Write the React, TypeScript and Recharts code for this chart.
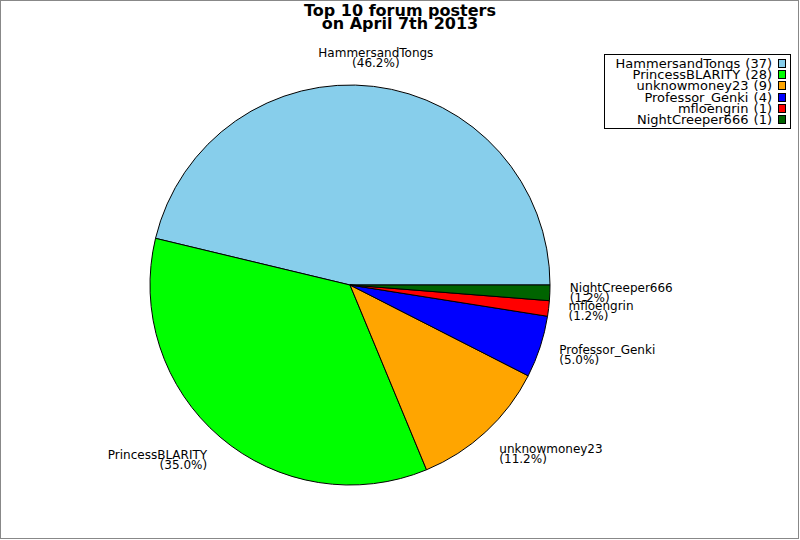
import { Cell, Legend, Pie, PieChart } from 'recharts';

const NAMES = ['HammersandTongs', 'PrincessBLARITY', 'unknowmoney23', 'Professor_Genki', 'mfloengrin', 'NightCreeper666'];
const POSTS = [37, 28, 9, 4, 1, 1];
const COLORS = ['#87ceeb', '#00ff00', '#ffa500', '#0000ff', '#ff0000', '#006400'];
const TITLE_LINES = ['Top 10 forum posters', 'on April 7th 2013'];

const FONT = '"DejaVu Sans", sans-serif';
const RADIAN = Math.PI / 180;
const TOTAL = POSTS.reduce((s, v) => s + v, 0);

const data = NAMES.map((name, i) => ({ name, value: POSTS[i] }));

// 46.25 -> 46.2 (the original truncates)
function pctText(value: number): string {
  return (Math.floor((value / TOTAL) * 1000 + 1e-9) / 10).toFixed(1) + '%';
}

function renderLabel(props: any) {
  const { cx, cy, midAngle, outerRadius, name, value } = props;
  const r = outerRadius + 20;
  const cos = Math.cos(midAngle * RADIAN);
  const sin = Math.sin(midAngle * RADIAN);
  const x = cx + r * cos;
  const y = cy - r * sin;
  const anchor = Math.abs(cos) < 0.3 ? 'middle' : cos > 0 ? 'start' : 'end';
  const top = y - 11 * (1 + sin) + 3 * Math.max(0, sin);
  return (
    <text x={x} y={top + 9} textAnchor={anchor} fontSize={12} fontFamily={FONT} fill="#000">
      <tspan x={x}>{name}</tspan>
      <tspan x={x} dy={10}>({pctText(value)})</tspan>
    </text>
  );
}

function ChartLegend() {
  return (
    <div
      style={{
        border: '1px solid #000',
        background: '#fff',
        padding: '3px 4px 3px 6px',
        fontFamily: FONT,
        fontSize: 13,
        color: '#000',
      }}
    >
      {NAMES.map((name, i) => (
        <div key={name} style={{ display: 'flex', justifyContent: 'flex-end', alignItems: 'center', height: 11.2, whiteSpace: 'nowrap' }}>
          <span style={{ wordSpacing: 1 }}>
            {name} ({POSTS[i]})
          </span>
          <span
            style={{
              display: 'inline-block',
              width: 6,
              height: 7,
              marginLeft: 6,
              background: COLORS[i],
              border: '1px solid #000',
            }}
          />
        </div>
      ))}
    </div>
  );
}

export default function App() {
  return (
    <div style={{ position: 'relative', width: 800, height: 540, background: '#fff' }}>
      <style>{'body{margin:0}'}</style>
      <PieChart width={800} height={540} margin={{ top: 0, right: 0, bottom: 0, left: 0 }}>
        <text textAnchor="middle" fontFamily={FONT} fontWeight="bold" fontSize={16} fill="#000">
          {TITLE_LINES.map((line, i) => (
            <tspan key={line} x={400} y={16 + i * 13}>
              {line}
            </tspan>
          ))}
        </text>
        <Pie
          data={data}
          dataKey="value"
          nameKey="name"
          cx={350}
          cy={285}
          outerRadius={200}
          startAngle={0}
          endAngle={360}
          label={renderLabel}
          labelLine={false}
          isAnimationActive={false}
        >
          {data.map((d, i) => (
            <Cell key={d.name} fill={COLORS[i]} stroke="#000" strokeWidth={1} />
          ))}
        </Pie>
        <Legend
          layout="vertical"
          align="right"
          verticalAlign="top"
          content={() => <ChartLegend />}
          wrapperStyle={{ position: 'absolute', top: 54, left: 604, right: 'auto', width: 187 }}
        />
      </PieChart>
      <div
        style={{
          position: 'absolute',
          left: 0,
          top: 0,
          width: 799,
          height: 539,
          border: '1px solid #888',
          boxSizing: 'border-box',
          pointerEvents: 'none',
        }}
      />
    </div>
  );
}
